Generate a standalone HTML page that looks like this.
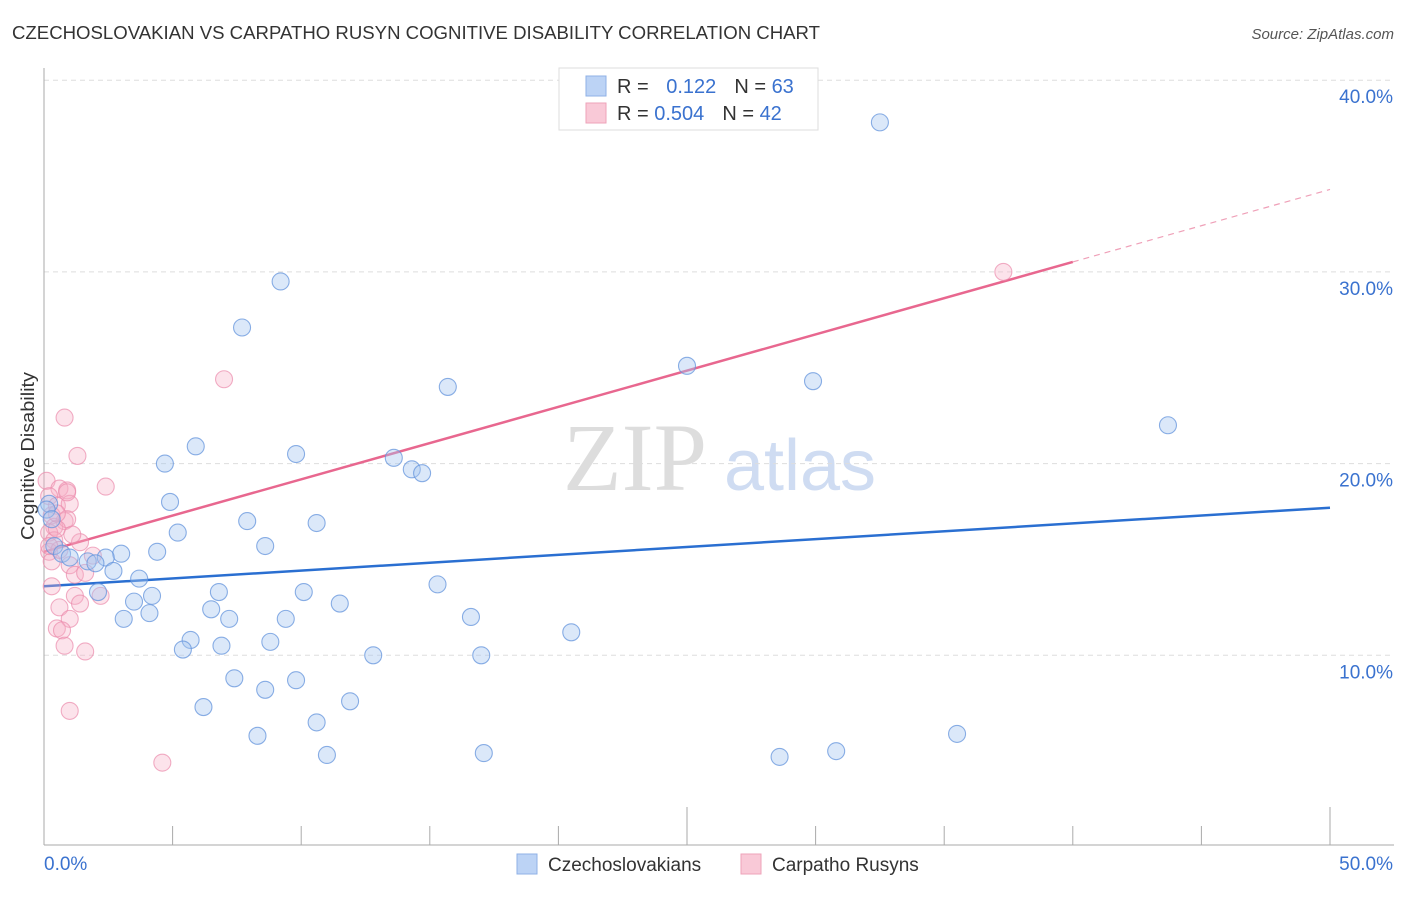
<!DOCTYPE html>
<html><head><meta charset="utf-8"><style>
body{margin:0;background:#fff;font-family:"Liberation Sans",sans-serif;}
</style></head><body>
<svg id="chart" width="1406" height="892" xmlns="http://www.w3.org/2000/svg">
<text x="12" y="39" font-size="18" fill="#333" textLength="808" lengthAdjust="spacingAndGlyphs">CZECHOSLOVAKIAN VS CARPATHO RUSYN COGNITIVE DISABILITY CORRELATION CHART</text>
<text x="1394" y="39" font-size="15" fill="#555" text-anchor="end" font-style="italic">Source: ZipAtlas.com</text>
<text x="34" y="456" font-size="18" fill="#333" text-anchor="middle" textLength="168" lengthAdjust="spacingAndGlyphs" transform="rotate(-90 34 456)">Cognitive Disability</text>
<g><text x="635" y="490" font-size="96" fill="#ddd" font-family="Liberation Serif,serif" text-anchor="middle">ZIP</text><text x="800" y="490" font-size="72" fill="#cfdcf2" text-anchor="middle">atlas</text></g>
<g id="grid"></g><g id="axes"></g><g id="lines"></g><g id="pts"></g>
<g>
<rect x="559" y="68" width="259" height="62" fill="#fff" stroke="#ddd"/>
<rect x="586" y="76" width="20" height="20" fill="#bcd3f5" stroke="#8fb0e6"/>
<rect x="586" y="103" width="20" height="20" fill="#f9c9d7" stroke="#eea3ba"/>
<text x="617" y="93" font-size="20" fill="#333">R = <tspan fill="#3a72cf" dx="12">0.122</tspan><tspan dx="18">N = </tspan><tspan fill="#3a72cf">63</tspan></text>
<text x="617" y="120" font-size="20" fill="#333">R = <tspan fill="#3a72cf">0.504</tspan><tspan dx="18">N = </tspan><tspan fill="#3a72cf">42</tspan></text>
</g>
<g>
<rect x="517" y="854" width="20" height="20" fill="#bcd3f5" stroke="#8fb0e6"/>
<text x="548" y="871" font-size="19" fill="#333">Czechoslovakians</text>
<rect x="741" y="854" width="20" height="20" fill="#f9c9d7" stroke="#eea3ba"/>
<text x="772" y="871" font-size="19" fill="#333">Carpatho Rusyns</text>
</g>
</svg>
<script>
const yTicks=[10,20,30,40];
const yTickLabels=["10.0%","20.0%","30.0%","40.0%"];
const xTicks=[0,5,10,15,20,25,30,35,40,45,50];
const blueX=[32.5,9.2,7.7,25.0,29.9,15.7,43.7,5.9,9.8,4.7,13.6,14.3,14.7,4.9,7.9,10.6,5.2,8.6,4.4,3.0,2.4,1.7,2.0,2.7,3.7,15.3,10.1,6.8,4.2,3.5,2.1,11.5,6.5,4.1,3.1,7.2,9.4,16.6,20.5,5.7,8.8,5.4,6.9,12.8,17.0,7.4,9.8,8.6,11.9,6.2,10.6,8.3,35.5,11.0,17.1,30.8,28.6,0.2,0.4,0.7,1.0,0.1,0.3];
const blueY=[37.8,29.5,27.1,25.1,24.3,24.0,22.0,20.9,20.5,20.0,20.3,19.7,19.5,18.0,17.0,16.9,16.4,15.7,15.4,15.3,15.1,14.9,14.8,14.4,14.0,13.7,13.3,13.3,13.1,12.8,13.3,12.7,12.4,12.2,11.9,11.9,11.9,12.0,11.2,10.8,10.7,10.3,10.5,10.0,10.0,8.8,8.7,8.2,7.6,7.3,6.5,5.8,5.9,4.8,4.9,5.0,4.7,17.9,15.7,15.3,15.1,17.6,17.1];
const pinkX=[37.3,7.0,0.8,1.3,2.4,0.1,0.6,0.9,0.2,0.5,1.0,0.3,0.8,0.4,0.9,0.2,0.4,1.4,0.2,1.9,0.3,1.0,1.2,1.6,0.3,1.2,2.2,0.6,1.4,1.0,0.5,0.7,0.8,1.6,1.0,4.6,0.6,0.2,0.5,0.9,1.1,0.5];
const pinkY=[30.0,24.4,22.4,20.4,18.8,19.1,18.7,18.6,18.3,17.8,17.9,17.3,17.0,16.7,17.1,16.4,16.0,15.9,15.4,15.2,14.9,14.7,14.2,14.3,13.6,13.1,13.1,12.5,12.7,11.9,11.4,11.3,10.5,10.2,7.1,4.4,15.5,15.7,16.6,18.5,16.3,17.4];
const blueLine=[13.6,17.7], pinkLine=[15.4,34.3], pinkSolidEnd=40;
const xs=v=>44+v/50*1286, ys=v=>847-v*19.17;
const NS="http://www.w3.org/2000/svg";
function mk(p,t,a){const e=document.createElementNS(NS,t);for(const k in a)e.setAttribute(k,a[k]);document.getElementById(p).appendChild(e);return e;}
yTicks.forEach((t,i)=>{
 const g=mk('grid','line',{x1:44,x2:1394,y1:ys(t),y2:ys(t),stroke:'#ddd','stroke-dasharray':'5,4'});
 
 
 const l=mk('grid','text',{x:1393,y:ys(t)+23,'font-size':19,fill:'#3a72cf','text-anchor':'end'});
 l.textContent=yTickLabels[i];
 
 
});
let ax=mk('axes','line',{x1:44,x2:44,y1:68,y2:845,stroke:'#aaa'});


ax=mk('axes','line',{x1:44,x2:1394,y1:845,y2:845,stroke:'#aaa'});


xTicks.forEach(t=>{
 const tk=mk('axes','line',{x1:xs(t),x2:xs(t),y1:(t%25===0&&t>0)?807:826,y2:845,stroke:'#aaa'});
 
 
});
let xl=mk('axes','text',{x:44,y:870,'font-size':19,fill:'#3a72cf'});xl.textContent='0.0%';


xl=mk('axes','text',{x:1393,y:870,'font-size':19,fill:'#3a72cf','text-anchor':'end'});xl.textContent='50.0%';


const lerp=(l,x)=>l[0]+(l[1]-l[0])*x/50;
pinkX.forEach((x,i)=>{
 const c=mk('pts','circle',{cx:xs(x),cy:ys(pinkY[i]),r:8.5,fill:'rgba(246,175,198,0.35)',stroke:'rgba(235,140,172,0.7)','stroke-width':1.1});
 
 
});
blueX.forEach((x,i)=>{
 const c=mk('pts','circle',{cx:xs(x),cy:ys(blueY[i]),r:8.5,fill:'rgba(165,198,240,0.4)',stroke:'rgba(100,148,220,0.75)','stroke-width':1.1});
 
 
});
let ln=mk('lines','line',{x1:xs(0),y1:ys(blueLine[0]),x2:xs(50),y2:ys(blueLine[1]),stroke:'#2a6fd1','stroke-width':2.5});


ln=mk('lines','line',{x1:xs(0),y1:ys(pinkLine[0]),x2:xs(pinkSolidEnd),y2:ys(lerp(pinkLine,pinkSolidEnd)),stroke:'#e8678f','stroke-width':2.5});


ln=mk('lines','line',{x1:xs(pinkSolidEnd),y1:ys(lerp(pinkLine,pinkSolidEnd)),x2:xs(50),y2:ys(pinkLine[1]),stroke:'#efa0b8','stroke-width':1.2,'stroke-dasharray':'6,5'});


</script>
</body></html>
